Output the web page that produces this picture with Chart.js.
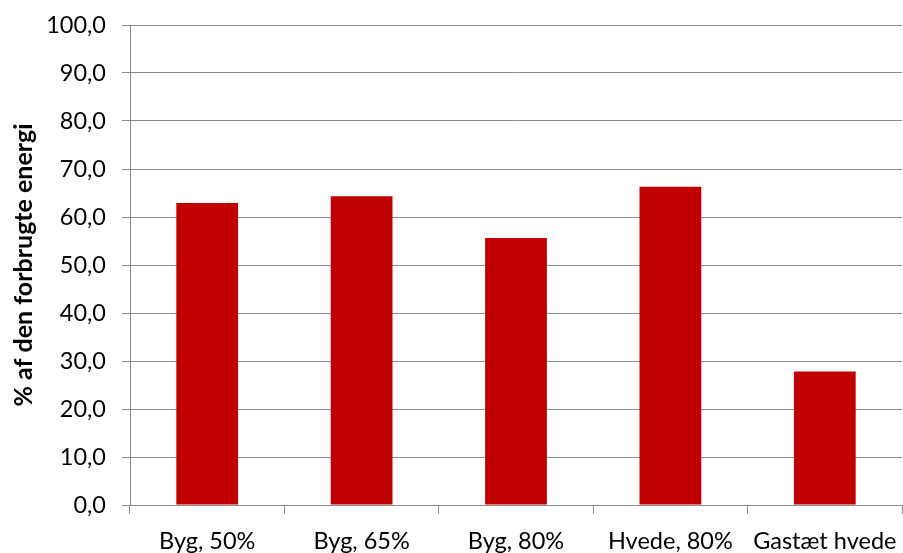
<!DOCTYPE html>
<html>
<head>
<meta charset="utf-8">
<script src="https://cdn.jsdelivr.net/npm/chart.js@4.4.0/dist/chart.umd.min.js"></script>
<style>
  html, body { margin: 0; padding: 0; background: #ffffff; }
  #wrap { width: 903px; height: 553px; }
</style>
</head>
<body>
<div id="wrap"><canvas id="energyChart" width="903" height="553"></canvas></div>
<script>
// Chart data
const categories = ['Byg, 50%', 'Byg, 65%', 'Byg, 80%', 'Hvede, 80%', 'Gastæt hvede'];
const energyShare = [62.9, 64.3, 55.6, 66.3, 27.8];
const yTicks = [0, 10, 20, 30, 40, 50, 60, 70, 80, 90, 100];
const yTitle = '% af den forbrugte energi';

const gridGray = '#8c8c8c';
const fontFamily = 'Lato, "Open Sans", sans-serif';

const ctx = document.getElementById('energyChart').getContext('2d');
new Chart(ctx, {
  type: 'bar',
  data: {
    labels: categories,
    datasets: [{
      data: energyShare,
      backgroundColor: '#c00000',
      borderWidth: 0,
      categoryPercentage: 1,
      barPercentage: 0.4
    }]
  },
  options: {
    responsive: false,
    animation: false,
    layout: { padding: { top: 25, right: 1, left: 0, bottom: 0 } },
    plugins: {
      legend: { display: false },
      tooltip: { enabled: false }
    },
    scales: {
      x: {
        offset: true,
        grid: {
          offset: true,
          drawOnChartArea: false,
          drawTicks: true,
          tickLength: 9,
          color: gridGray
        },
        border: { color: gridGray, width: 1 },
        ticks: {
          color: '#000',
          padding: 13,
          maxRotation: 0,
          autoSkip: false,
          font: { family: fontFamily, size: 23.5 }
        },
        afterFit: (scale) => {
          // keep plot edges fixed, labels may overhang
          scale.height = 48;
          scale.paddingLeft = 0;
          scale.paddingRight = 0;
        }
      },
      y: {
        min: 0,
        max: 100,
        afterBuildTicks: (scale) => {
          scale.ticks = yTicks.map(v => ({ value: v }));
        },
        grid: {
          color: gridGray,
          tickLength: 8,
          lineWidth: 1
        },
        border: { color: gridGray, width: 1 },
        ticks: {
          color: '#000',
          padding: 16,
          font: { family: fontFamily, size: 23.5 },
          callback: (v) => v.toFixed(1).replace('.', ',')
        },
        title: {
          display: true,
          text: yTitle,
          color: '#000',
          padding: { top: 9, bottom: 0 },
          font: { family: fontFamily, size: 25, weight: 'bold' }
        },
        afterFit: (scale) => {
          scale.width = 130;
          scale.paddingTop = 0;
          scale.paddingBottom = 0;
        }
      }
    }
  }
});
</script>
</body>
</html>
